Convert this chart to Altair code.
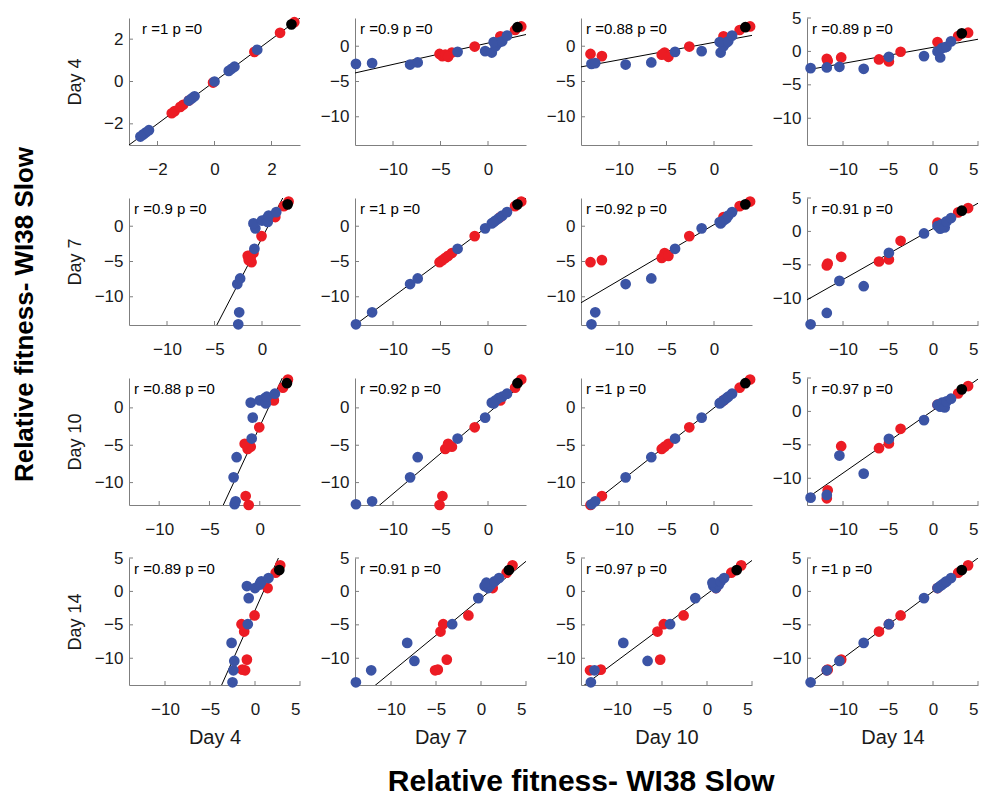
import altair as alt
import pandas as pd

# ---------------- data ----------------
days = ["Day 4", "Day 7", "Day 10", "Day 14"]
keys = ["d4", "d7", "d10", "d14"]

group = ["red"] * 9 + ["blue"] * 12 + ["black"]
d4 = [-1.1, -1.4, -0.9, -1.2, -1.5, -0.05, 1.4, 2.3, 2.8,
      -2.5, -2.4, -2.6, -2.3, -0.8, -0.7, -0.9, 0.0, 0.5, 0.6, 0.7, 1.5,
      2.7]
d7 = [-5.1, -4.8, -3.8, -4.5, -4.2, -1.4, 1.3, 2.85, 3.5,
      -13.9, -12.2, -8.2, -7.4, -3.2, -0.3, 0.4, 0.8, 1.1, 0.6, 1.5, 2.0,
      3.1]
d10 = [-13.0, -11.8, -5.2, -5.5, -4.8, -2.6, 1.0, 2.7, 3.8,
       -12.9, -12.5, -9.3, -6.6, -4.1, -1.3, 0.7, 1.0, 1.3, 0.6, 1.5, 1.9,
       3.3]
d14 = [-11.8, -11.7, -10.2, -6.0, -4.9, -3.6, 0.5, 2.8, 3.9,
       -13.6, -11.8, -7.7, -10.4, -4.9, -1.0, 0.8, 0.5, 1.0, 1.3, 1.5, 2.0,
       3.2]

r_text = [["1", "0.9", "0.88", "0.89"],
          ["0.9", "1", "0.92", "0.91"],
          ["0.88", "0.92", "1", "0.97"],
          ["0.89", "0.91", "0.97", "1"]]

x_domains = [[[-3, 3], [-14, 4], [-14, 4], [-14, 5]],
             [[-14, 4], [-14, 4], [-14, 4], [-14, 5]],
             [[-13, 4], [-14, 4], [-14, 4], [-14, 5]],
             [[-14, 5], [-14, 5], [-14, 5], [-14, 5]]]
y_domains = [[[-3, 3], [-14, 4], [-14, 4], [-14, 5]],
             [[-14, 4], [-14, 4], [-14, 4], [-14, 5]],
             [[-13, 4], [-13, 4], [-13, 4], [-14, 5]],
             [[-14, 5], [-14, 5], [-14, 5], [-14, 5]]]

df = pd.DataFrame({"group": group, "d4": d4, "d7": d7, "d10": d10, "d14": d14})

# ---------------- style ----------------
FONT = "Liberation Sans"
RED = "#EC1C24"
BLUE = "#3B54A5"
AX = "#7f7f7f"
W, H = 171, 127


def panel(r, c):
    xf, yf = keys[c], keys[r]
    xdom, ydom = x_domains[r][c], y_domains[r][c]
    cand = [-2, 0, 2] if (r, c) == (0, 0) else [-10, -5, 0, 5]
    xt = [v for v in cand if xdom[0] <= v <= xdom[1]]
    yt = [v for v in cand if ydom[0] <= v <= ydom[1]]
    xs = alt.Scale(domain=xdom, nice=False, zero=False)
    ys = alt.Scale(domain=ydom, nice=False, zero=False)
    xaxis = alt.Axis(values=xt, title=days[c] if r == 3 else None,
                     titleY=42, titleBaseline="top")
    yaxis = alt.Axis(values=yt, title=days[r] if c == 0 else None,
                     titleX=-54, titleBaseline="middle")

    xtick = alt.Chart(pd.DataFrame({"t": xt})).mark_rule(color=AX, strokeWidth=1).encode(
        x=alt.X("t:Q", scale=xs, axis=xaxis),
        y=alt.value(H), y2=alt.value(H - 4))
    ytick = alt.Chart(pd.DataFrame({"t": yt})).mark_rule(color=AX, strokeWidth=1).encode(
        y=alt.Y("t:Q", scale=ys, axis=yaxis),
        x=alt.value(0), x2=alt.value(4))
    line = alt.Chart(df).transform_regression(
        xf, yf, extent=xdom, as_=["rx", "ry"]
    ).mark_line(color="black", strokeWidth=1, clip=True).encode(
        x=alt.X("rx:Q", scale=xs, axis=xaxis),
        y=alt.Y("ry:Q", scale=ys, axis=yaxis))
    pts = alt.Chart(df).mark_circle(size=115, opacity=1).encode(
        x=alt.X(f"{xf}:Q", scale=xs, axis=xaxis),
        y=alt.Y(f"{yf}:Q", scale=ys, axis=yaxis),
        color=alt.Color("group:N", legend=None,
                        scale=alt.Scale(domain=["red", "blue", "black"],
                                        range=[RED, BLUE, "#000000"])))
    txt = alt.Chart(pd.DataFrame({"label": [f"r ={r_text[r][c]} p =0"]})).mark_text(
        align="left", baseline="alphabetic", fontSize=15, font=FONT, color="#000000"
    ).encode(x=alt.value(13 if (r, c) == (0, 0) else 5), y=alt.value(16), text="label:N")
    return alt.layer(xtick, ytick, line, pts, txt).properties(width=W, height=H)


panels = [panel(r, c) for r in range(4) for c in range(4)]

grid = alt.concat(
    *panels, columns=4, spacing={"row": 53, "column": 55}, bounds="flush",
    title=alt.TitleParams("Relative fitness- WI38 Slow", orient="bottom", anchor="middle",
                          fontSize=30, fontWeight="bold", font=FONT,
                          offset=19, dx=59, color="#000000"))

chart = alt.hconcat(
    grid,
    title=alt.TitleParams("Relative fitness- WI38 Slow", orient="left", anchor="middle",
                          fontSize=26, fontWeight="bold", font=FONT,
                          offset=28, dx=88, color="#000000"),
    padding={"left": 11, "top": 8, "right": 5, "bottom": 0},
).configure_view(stroke="transparent").configure_axis(
    grid=False, ticks=False, tickSize=0,
    domainColor=AX, domainWidth=1,
    labelFont=FONT, labelFontSize=17, labelColor="#1a1a1a",
    titleFont=FONT, titleFontWeight="normal", titleColor="#1a1a1a",
).configure_axisX(labelPadding=16, titleFontSize=20).configure_axisY(labelPadding=6, titleFontSize=18)

chart.save("out.html", embed_options={"renderer": "svg", "actions": False})
